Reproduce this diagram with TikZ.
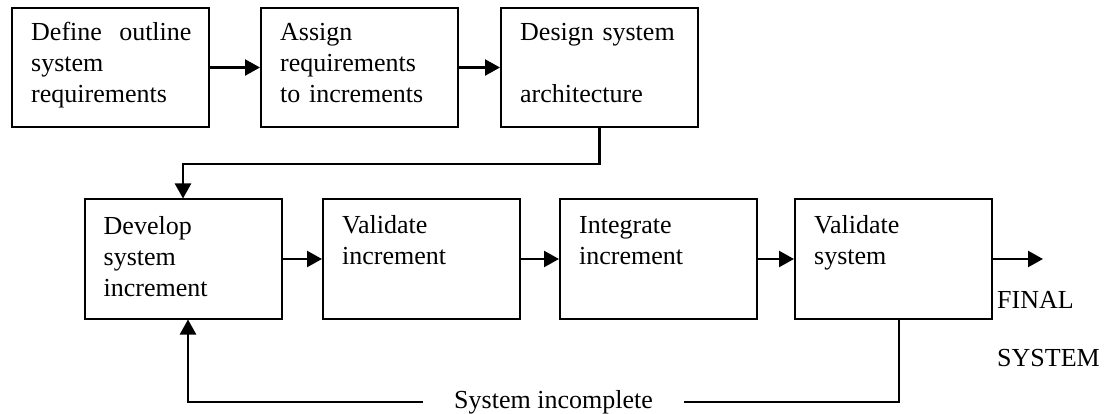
\documentclass[tikz,border=0pt]{standalone}
\usepackage{fontspec}
\setmainfont{Liberation Serif}
\usetikzlibrary{arrows.meta}

\begin{document}
\begin{tikzpicture}[x=1pt, y=-1pt,
  stage/.style={draw, line width=2pt, minimum width=197pt, minimum height=119pt, inner sep=0pt},
  caption/.style={font=\fontsize{26}{31}\selectfont, text width=176pt, align=left, inner sep=0pt, anchor=base west},
  plain/.style={font=\fontsize{26}{31}\selectfont, inner sep=0pt, anchor=base west},
  flow/.style={line width=2.4pt, -{Triangle[length=15pt, width=16pt]}},
  link/.style={line width=2.4pt}
]
\useasboundingbox (0,0) rectangle (1106,414);

% top row of stages
\node[stage] (b1) at (110.5,67.5) {};
\node[stage] (b2) at (359.5,67.5) {};
\node[stage] (b3) at (599.5,67.5) {};

% bottom row of stages
\node[stage] (b4) at (183,259) {};
\node[stage] (b5) at (421.5,259) {};
\node[stage] (b6) at (658.5,259) {};
\node[stage] (b7) at (893.5,259) {};

% stage texts, first baseline 34pt below the top edge
\node[caption] (t1) at ([shift={(20,34)}]b1.north west) {Define\ \ outline\\system\\requirements};
\node[caption] (t2) at ([shift={(20,34)}]b2.north west) {Assign\\requirements\\to increments};
\node[caption] (t3) at ([shift={(20,34)}]b3.north west) {Design system\\[31pt]architecture};
\node[caption] (t4) at ([shift={(20,36)}]b4.north west) {Develop\\system\\increment};
\node[caption] (t5) at ([shift={(20,35)}]b5.north west) {Validate\\increment};
\node[caption] (t6) at ([shift={(20,35)}]b6.north west) {Integrate\\increment};
\node[caption] (t7) at ([shift={(20,35)}]b7.north west) {Validate\\system};

% output label
\node[plain] (fin) at (997,308) {FINAL};
\node[plain] (sys) at (997,366) {SYSTEM};
\coordinate (out) at (1043,259);

% forward flow
\draw[flow] (b1.east) -- (b2.west);
\draw[flow] (b2.east) -- (b3.west);
\draw[flow] (b3.south) -- ++(0,36) -| (b4.north);
\draw[flow] (b4.east) -- (b5.west);
\draw[flow] (b5.east) -- (b6.west);
\draw[flow] (b6.east) -- (b7.west);
\draw[flow] (b7.east) -- (out);

% feedback loop
\coordinate (loop) at (188,402);
\draw[flow] ([xshift=5.5pt]b7.south) |- (loop) -- ([xshift=5pt]b4.south);
\node[font=\fontsize{26}{31}\selectfont, fill=white, inner xsep=31pt, inner ysep=2pt, anchor=base]
  (inc) at (553.5,408) {System incomplete};
\end{tikzpicture}
\end{document}
